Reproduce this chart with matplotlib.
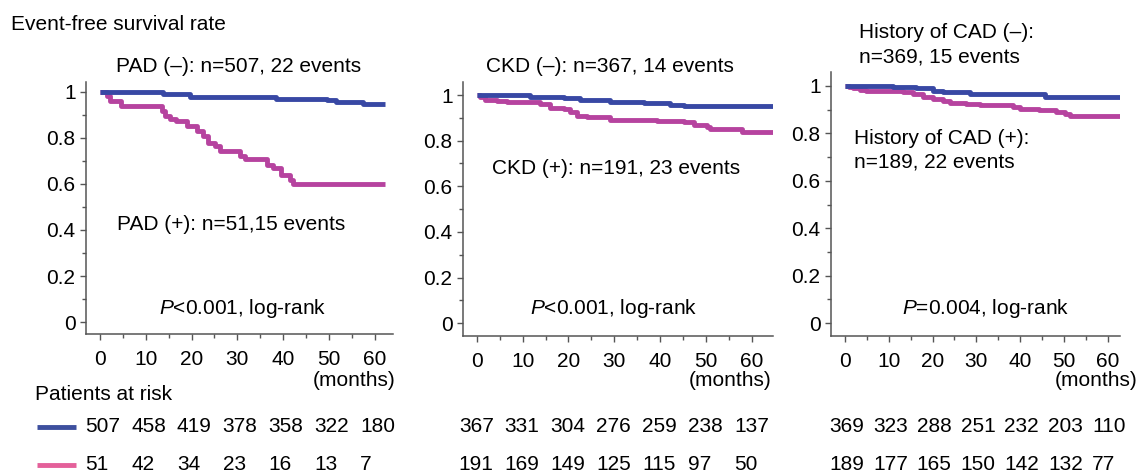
import matplotlib
matplotlib.use("Agg")
import matplotlib.pyplot as plt
from matplotlib.ticker import MultipleLocator, FixedLocator, FuncFormatter
from matplotlib.transforms import blended_transform_factory

plt.rcParams['font.family'] = ['Liberation Sans', 'DejaVu Sans']
plt.rcParams['mathtext.fontset'] = 'custom'
plt.rcParams['mathtext.rm'] = 'Liberation Sans'
plt.rcParams['mathtext.it'] = 'Liberation Sans:italic'

# ---------------- data ----------------
# Panel 1: PAD
pad_neg_t = [0, 13.8, 19.6, 38.5, 49.5, 51.6, 57.5, 62.2]
pad_neg_s = [1.0, 0.991, 0.978, 0.970, 0.964, 0.957, 0.948, 0.948]
pad_pos_t = [0, 1.5, 2.2, 4.7, 13.5, 14.2, 15.3, 16.7, 18.9, 21.1, 22.5, 23.6,
             25.1, 26.2, 30.5, 31.6, 36.4, 37.8, 39.6, 41.5, 42.2, 62.2]
pad_pos_s = [1.0, 0.98, 0.96, 0.938, 0.916, 0.894, 0.883, 0.872, 0.851, 0.829,
             0.807, 0.778, 0.764, 0.745, 0.72, 0.709, 0.684, 0.67, 0.641, 0.619,
             0.601, 0.601]

# Panel 2: CKD
ckd_neg_t = [0, 11.6, 19.0, 22.5, 29.1, 36.4, 42.2, 45.1, 64.7]
ckd_neg_s = [1.0, 0.99, 0.985, 0.978, 0.97, 0.963, 0.956, 0.952, 0.952]
ckd_pos_t = [0, 0.7, 1.8, 4.4, 6.5, 13.8, 16.0, 19.0, 20.4, 21.8, 24.0, 29.1,
             39.3, 45.1, 47.3, 50.2, 50.9, 57.8, 64.7]
ckd_pos_s = [1.0, 0.99, 0.98, 0.975, 0.97, 0.96, 0.945, 0.94, 0.925, 0.91,
             0.905, 0.89, 0.885, 0.88, 0.87, 0.86, 0.85, 0.84, 0.84]

# Panel 3: History of CAD
cad_neg_t = [0, 11.0, 16.3, 20.1, 22.4, 28.5, 45.6, 62.7]
cad_neg_s = [1.0, 0.995, 0.99, 0.98, 0.975, 0.965, 0.955, 0.955]
cad_pos_t = [0, 0.8, 1.9, 3.4, 4.9, 13.3, 15.6, 17.8, 20.1, 22.4, 24.0, 27.7,
             30.8, 38.4, 40.0, 44.4, 48.2, 50.2, 51.3, 62.7]
cad_pos_s = [1.0, 0.995, 0.99, 0.985, 0.98, 0.975, 0.965, 0.955, 0.945, 0.935,
             0.93, 0.925, 0.92, 0.91, 0.903, 0.897, 0.892, 0.881, 0.875, 0.875]

risk_months = [0, 10, 20, 30, 40, 50, 60]
pad_neg_risk = [507, 458, 419, 378, 358, 322, 180]
pad_pos_risk = [51, 42, 34, 23, 16, 13, 7]
ckd_neg_risk = [367, 331, 304, 276, 259, 238, 137]
ckd_pos_risk = [191, 169, 149, 125, 115, 97, 50]
cad_neg_risk = [369, 323, 288, 251, 232, 203, 110]
cad_pos_risk = [189, 177, 165, 150, 142, 132, 77]

y_ticks = [0, 0.2, 0.4, 0.6, 0.8, 1.0]
x_ticks = [0, 10, 20, 30, 40, 50, 60]

# ---------------- style ----------------
W, H = 1142, 472
BLUE = '#3848a4'
MAG = '#b6439f'
LEG_BLUE = '#3d4f9e'
LEG_PINK = '#e4609a'
SPINE = '#555555'
FS = 15

fig = plt.figure(figsize=(W / 100, H / 100), dpi=100)


def fx(px):
    return px / W


def fy(py):
    return 1 - py / H


def make_ax(l, r, t, b, xlim, ylim):
    ax = fig.add_axes([fx(l), fy(b), fx(r - l), (b - t) / H])
    ax.set_xlim(*xlim)
    ax.set_ylim(*ylim)
    for s in ['top', 'right']:
        ax.spines[s].set_visible(False)
    for s in ['left', 'bottom']:
        ax.spines[s].set_color(SPINE)
        ax.spines[s].set_linewidth(1.1)
    ax.xaxis.set_major_locator(FixedLocator(x_ticks))
    ax.xaxis.set_minor_locator(MultipleLocator(5))
    ax.yaxis.set_major_locator(FixedLocator(y_ticks))
    ax.yaxis.set_minor_locator(MultipleLocator(0.1))
    ax.yaxis.set_major_formatter(FuncFormatter(lambda v, p: '%g' % v))
    ax.tick_params(which='both', direction='out', color=SPINE, width=1.0)
    ax.tick_params(which='major', length=4.5, labelsize=FS)
    ax.tick_params(axis='y', which='major', pad=3)
    ax.tick_params(axis='x', which='major', pad=7)
    ax.tick_params(which='minor', length=3)
    ax.patch.set_alpha(0)
    return ax


ax1 = make_ax(86, 393, 82, 334, (-3.05, 64.0), (-0.052, 1.043))
ax2 = make_ax(463, 773, 82, 336, (-3.0, 64.6), (-0.056, 1.057))
ax3 = make_ax(831, 1120, 72, 336, (-3.2, 62.8), (-0.054, 1.059))

for ax, (tn, sn, tp, sp) in zip(
        [ax1, ax2, ax3],
        [(pad_neg_t, pad_neg_s, pad_pos_t, pad_pos_s),
         (ckd_neg_t, ckd_neg_s, ckd_pos_t, ckd_pos_s),
         (cad_neg_t, cad_neg_s, cad_pos_t, cad_pos_s)]):
    ax.step(tp, sp, where='post', color=MAG, lw=3.5, solid_capstyle='butt', zorder=3)
    ax.step(tn, sn, where='post', color=BLUE, lw=3.5, solid_capstyle='butt', zorder=4)

# ---------------- texts ----------------
def t(px, py, s, ha='left', va='center', **kw):
    fig.text(fx(px), fy(py), s, ha=ha, va=va, fontsize=FS, **kw)


t(11, 24, 'Event-free survival rate')
t(116, 66, 'PAD (–): n=507, 22 events')
t(117, 225, 'PAD (+): n=51,15 events')
t(159, 309, r'$\mathit{P}$<0.001, log-rank')
t(486, 66, 'CKD (–): n=367, 14 events')
t(492, 169, 'CKD (+): n=191, 23 events')
t(530, 309, r'$\mathit{P}$<0.001, log-rank')
t(859, 33, 'History of CAD (–):')
t(859, 57, 'n=369, 15 events')
t(854, 138, 'History of CAD (+):')
t(854, 162, 'n=189, 22 events')
t(902, 309, r'$\mathit{P}$=0.004, log-rank')

t(395, 380, '(months)', ha='right')
t(771, 380, '(months)', ha='right')
t(1138, 380, '(months)', ha='right')

t(35, 395, 'Patients at risk')

# legend lines for at-risk rows
fig.add_artist(plt.Line2D([fx(37), fx(76)], [fy(427), fy(427)], color=LEG_BLUE, lw=3.5,
                          solid_capstyle='butt'))
fig.add_artist(plt.Line2D([fx(37), fx(76)], [fy(465), fy(465)], color=LEG_PINK, lw=3.5,
                          solid_capstyle='butt'))

for ax, off, r1, r2 in [(ax1, -3.2, pad_neg_risk, pad_pos_risk),
                        (ax2, -3.9, ckd_neg_risk, ckd_pos_risk),
                        (ax3, -3.6, cad_neg_risk, cad_pos_risk)]:
    tr = blended_transform_factory(ax.transData, fig.transFigure)
    for m, a, b in zip(risk_months, r1, r2):
        fig.text(m + off, fy(427), str(a), transform=tr, ha='left', va='center', fontsize=FS)
        fig.text(m + off, fy(464), str(b), transform=tr, ha='left', va='center', fontsize=FS)

fig.savefig('out.png', dpi=100)
